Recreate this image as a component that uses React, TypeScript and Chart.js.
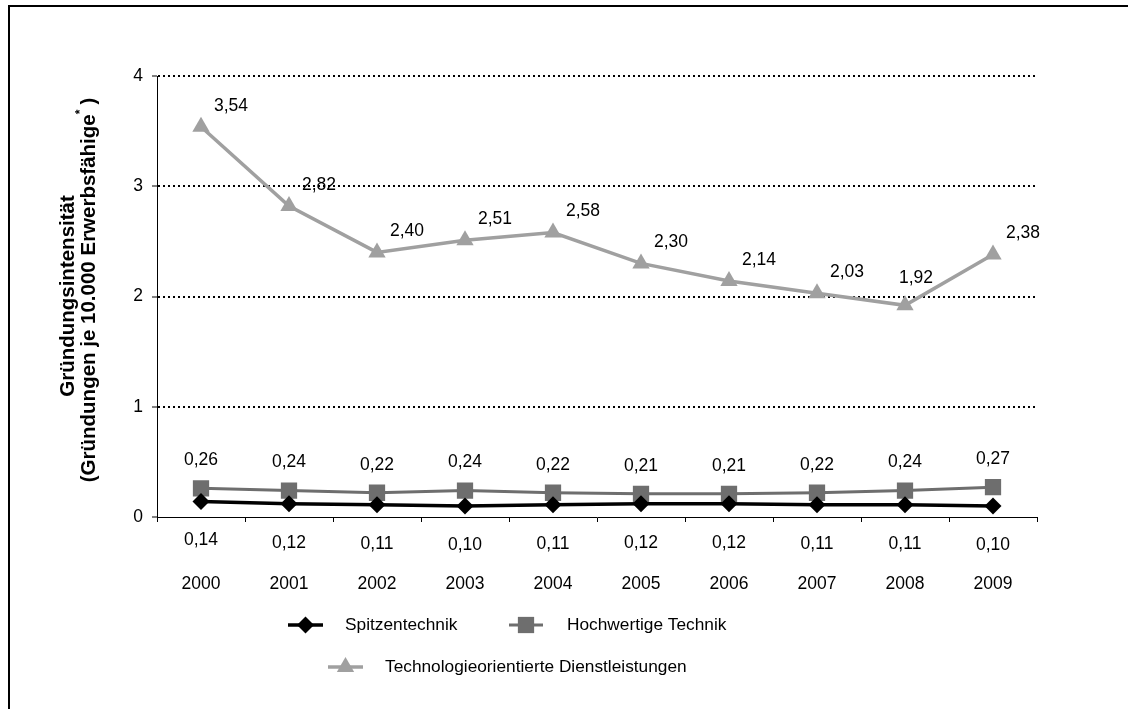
import React, { useEffect, useRef } from "react";
import { Chart, registerables } from "chart.js";

Chart.register(...registerables);

const years = ["2000", "2001", "2002", "2003", "2004", "2005", "2006", "2007", "2008", "2009"];
const spitzentechnik = [0.14, 0.12, 0.11, 0.10, 0.11, 0.12, 0.12, 0.11, 0.11, 0.10];
const hochwertigeTechnik = [0.26, 0.24, 0.22, 0.24, 0.22, 0.21, 0.21, 0.22, 0.24, 0.27];
const technologieDL = [3.54, 2.82, 2.40, 2.51, 2.58, 2.30, 2.14, 2.03, 1.92, 2.38];
const seriesNames = ["Spitzentechnik", "Hochwertige Technik", "Technologieorientierte Dienstleistungen"];
const yTitleLine1 = "Gründungsintensität";
const yTitleLine2 = "(Gründungen je 10.000 Erwerbsfähige";

const FONT = "'Liberation Sans', Arial, sans-serif";
const C_SPITZ = "#000000";
const C_HOCH = "#6e6e6e";
const C_TECH = "#a0a0a0";

const fmt = (v: number) => v.toFixed(2).replace(".", ",");

const decorPlugin = {
  id: "decor",
  beforeDraw(chart: any) {
    const ctx = chart.ctx;
    ctx.save();
    ctx.fillStyle = "#fff";
    ctx.fillRect(0, 0, chart.width, chart.height);
    ctx.strokeStyle = "#000";
    ctx.lineWidth = 2;
    ctx.strokeRect(9, 6, chart.width + 20, chart.height + 20);
    ctx.restore();
  },
  afterDatasetsDraw(chart: any) {
    const ctx = chart.ctx;
    ctx.save();
    ctx.font = `17.5px ${FONT}`;
    ctx.fillStyle = "#000";
    ctx.textAlign = "center";
    ctx.textBaseline = "middle";
    chart.data.datasets.forEach((ds: any, di: number) => {
      const meta = chart.getDatasetMeta(di);
      meta.data.forEach((pt: any, i: number) => {
        const v = ds.data[i];
        let dx = 0, dy = 0;
        if (di === 0) { dy = 39; }
        else if (di === 1) { dy = -28; }
        else {
          dx = 30; dy = -21;
          if (i === 8) { dx = 11; dy = -27; }
        }
        ctx.fillText(fmt(v), pt.x + dx, pt.y + dy);
      });
    });
    ctx.restore();
  },
  afterDraw(chart: any) {
    const ctx = chart.ctx;
    ctx.save();
    ctx.fillStyle = "#000";
    ctx.textAlign = "center";
    ctx.textBaseline = "middle";
    const big = `bold 20.5px ${FONT}`;
    const small = `bold 12px ${FONT}`;
    const drawRot = (x: number, cy: number, draw: () => void) => {
      ctx.save();
      ctx.translate(x, cy);
      ctx.rotate(-Math.PI / 2);
      draw();
      ctx.restore();
    };
    drawRot(68, 296, () => { ctx.font = big; ctx.fillText(yTitleLine1, 0, 0); });
    drawRot(89, 290, () => {
      ctx.font = big;
      const w1 = ctx.measureText(yTitleLine2).width;
      const wEnd = ctx.measureText(")").width;
      ctx.font = small;
      const wStar = ctx.measureText("*").width;
      const gap = 5;
      const total = w1 + wStar + gap + wEnd;
      let x = -total / 2;
      ctx.textAlign = "left";
      ctx.font = big;
      ctx.fillText(yTitleLine2, x, 0);
      x += w1;
      ctx.font = small;
      ctx.fillText("*", x, -8);
      x += wStar + gap;
      ctx.font = big;
      ctx.fillText(")", x, 0);
    });
    ctx.restore();

    // legend
    ctx.save();
    ctx.font = `17.3px ${FONT}`;
    ctx.textAlign = "left";
    ctx.textBaseline = "middle";
    const items = [
      { x1: 288, x2: 323, y: 625, tx: 345, ds: 0 },
      { x1: 509, x2: 543, y: 625, tx: 567, ds: 1 },
      { x1: 328, x2: 363, y: 667, tx: 385, ds: 2 },
    ];
    items.forEach((it) => {
      const ds = chart.data.datasets[it.ds];
      ctx.strokeStyle = ds.borderColor;
      ctx.lineWidth = ds.borderWidth;
      ctx.beginPath();
      ctx.moveTo(it.x1, it.y);
      ctx.lineTo(it.x2, it.y);
      ctx.stroke();
      ctx.fillStyle = ds.pointBackgroundColor;
      const cx = (it.x1 + it.x2) / 2;
      const r = ds.pointRadius;
      ctx.beginPath();
      if (ds.pointStyle === "rectRot") {
        ctx.moveTo(cx, it.y - r);
        ctx.lineTo(cx + r, it.y);
        ctx.lineTo(cx, it.y + r);
        ctx.lineTo(cx - r, it.y);
        ctx.closePath();
      } else if (ds.pointStyle === "rect") {
        const s = r * Math.SQRT1_2;
        ctx.rect(cx - s, it.y - s, 2 * s, 2 * s);
      } else {
        ctx.moveTo(cx, it.y - r);
        ctx.lineTo(cx + r * Math.sin((2 * Math.PI) / 3), it.y + r / 2);
        ctx.lineTo(cx - r * Math.sin((2 * Math.PI) / 3), it.y + r / 2);
        ctx.closePath();
      }
      ctx.fill();
      ctx.fillStyle = "#000";
      ctx.fillText(ds.label, it.tx, it.y);
    });
    ctx.restore();
  },
};

export default function App() {
  const ref = useRef<HTMLCanvasElement | null>(null);
  useEffect(() => {
    if (!ref.current) return;
    const chart = new Chart(ref.current, {
      type: "line",
      data: {
        labels: years,
        datasets: [
          {
            label: seriesNames[0],
            data: spitzentechnik,
            borderColor: C_SPITZ,
            backgroundColor: C_SPITZ,
            pointBackgroundColor: C_SPITZ,
            pointBorderColor: C_SPITZ,
            borderWidth: 3.5,
            pointStyle: "rectRot",
            pointRadius: 8.5,
            pointBorderWidth: 0,
            tension: 0,
          },
          {
            label: seriesNames[1],
            data: hochwertigeTechnik,
            borderColor: C_HOCH,
            backgroundColor: C_HOCH,
            pointBackgroundColor: C_HOCH,
            pointBorderColor: C_HOCH,
            borderWidth: 3,
            pointStyle: "rect",
            pointRadius: 11.5,
            pointBorderWidth: 0,
            tension: 0,
          },
          {
            label: seriesNames[2],
            data: technologieDL,
            borderColor: C_TECH,
            backgroundColor: C_TECH,
            pointBackgroundColor: C_TECH,
            pointBorderColor: C_TECH,
            borderWidth: 3.5,
            pointStyle: "triangle",
            pointRadius: 10,
            pointBorderWidth: 0,
            tension: 0,
          },
        ] as any,
      },
      options: {
        animation: false,
        responsive: false,
        events: [],
        layout: { padding: { left: 0, right: 91, top: 76, bottom: 109 } },
        plugins: { legend: { display: false }, tooltip: { enabled: false } },
        scales: {
          x: {
            offset: true,
            grid: {
              offset: true,
              drawOnChartArea: false,
              drawTicks: true,
              tickLength: 5,
              color: "#000",
              tickColor: "#000",
            },
            border: { display: true, color: "#000", width: 1 },
            ticks: {
              color: "#000",
              font: { family: FONT, size: 17.5 },
              padding: 52,
              maxRotation: 0,
              autoSkip: false,
            },
            afterFit: (s: any) => { s.height = 83; },
          },
          y: {
            min: 0,
            max: 4,
            ticks: {
              stepSize: 1,
              color: "#000",
              font: { family: FONT, size: 17.5 },
              padding: 9,
            },
            grid: {
              color: (c: any) => (c.tick && c.tick.value === 0 ? "rgba(0,0,0,0)" : "#000"),
              lineWidth: 2,
              tickLength: 5,
              tickColor: "#000",
              tickWidth: 1,
              tickBorderDash: [],
            },
            border: { display: true, color: "#000", width: 1, dash: [2, 3] },
            afterFit: (s: any) => { s.width = 157; },
          },
        },
      } as any,
      plugins: [decorPlugin],
    });
    return () => chart.destroy();
  }, []);
  return (
    <canvas
      ref={ref}
      width={1128}
      height={709}
      style={{ position: "fixed", left: 0, top: 0, width: 1128, height: 709 }}
    />
  );
}
